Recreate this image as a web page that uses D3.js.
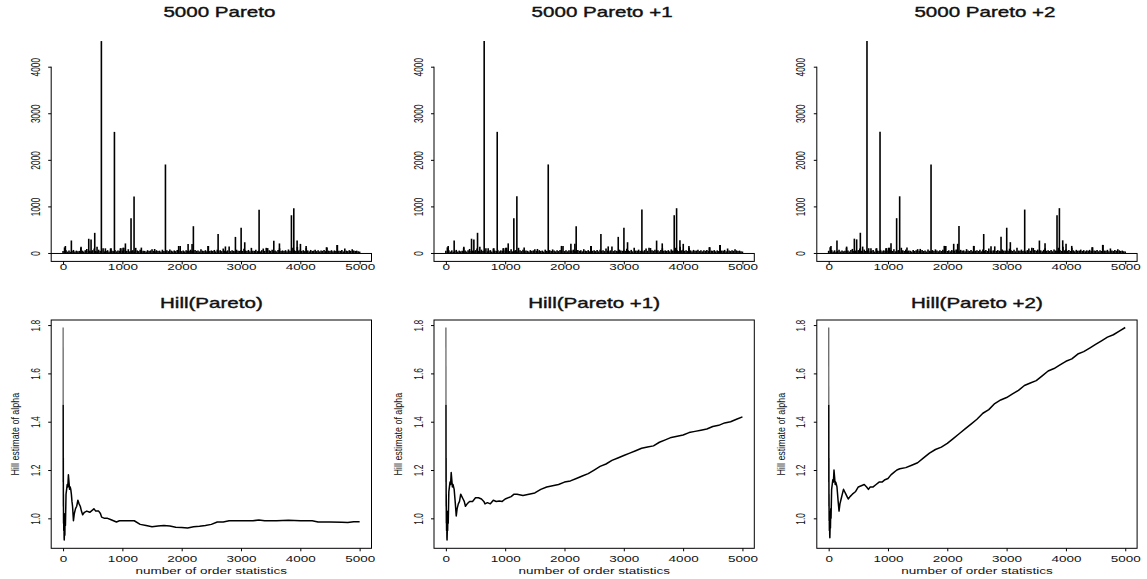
<!DOCTYPE html>
<html>
<head>
<meta charset="utf-8">
<script src="https://cdn.jsdelivr.net/npm/d3@7"></script>
<style>
  body { margin: 0; background: #fff; }
  text { font-family: "Liberation Sans", Arial, Helvetica, sans-serif; fill: #111; }
</style>
</head>
<body>
<svg id="chart" width="1147" height="579"></svg>
<script>
// ---- titles and tick labels ----
const topTitles = ["5000 Pareto", "5000 Pareto +1", "5000 Pareto +2"];
const hillTitles = ["Hill(Pareto)", "Hill(Pareto +1)", "Hill(Pareto +2)"];
const shifts = [0, 1, 2];
const xTicks = [0, 1000, 2000, 3000, 4000, 5000];
const sampleYTicks = [0, 1000, 2000, 3000, 4000];
const hillYTicks = [1.0, 1.2, 1.4, 1.6, 1.8];
const xLabel = "number of order statistics";
const yLabel = "Hill estimate of alpha";

// ---- the 5000-point Pareto sample (small background values every 25 indices) ----
const minorStep = 25;
const minorValues = [
  45,120,60,30,55,25,40,65,30,50,35,45,110,50,30,60,85,40,50,35,
  60,95,45,30,70,40,55,100,35,45,60,30,95,50,40,65,35,55,45,100,
  50,110,60,40,80,35,45,60,30,110,55,40,70,35,50,45,30,60,40,55,
  80,45,35,60,40,50,30,70,45,35,60,40,75,50,35,55,40,65,45,150,
  40,55,35,60,45,50,70,40,35,65,45,55,35,80,50,40,60,35,150,45,
  55,40,65,35,70,45,60,40,95,50,35,55,140,40,60,45,35,70,50,45,
  60,45,90,55,40,65,35,110,50,45,70,40,55,35,60,95,45,110,105,60,
  45,70,40,55,35,65,100,45,55,40,60,35,75,50,45,110,60,40,130,55,
  70,45,60,40,110,55,35,65,45,50,70,40,60,35,55,45,65,40,120,50,
  45,60,35,55,40,170,50,45,65,35,95,50,40,60,45,80,55,40,50,35,
  30
];
// large observations: [index, value]
const majorSpikes = [
  [39,150],[140,268],[303,135],[433,305],[472,290],[534,432],[573,135],
  [646,4550],[713,100],[809,100],[866,2600],[966,100],[1011,110],[1051,205],
  [1146,745],[1197,1215],[1320,115],[1544,85],[1726,1900],[1949,150],
  [2108,195],[2175,195],[2197,575],[2444,150],[2614,405],[2737,140],
  [2906,345],[3002,540],[3063,230],[3305,930],[3553,265],[3648,205],
  [3850,810],[3890,960],[3946,270],[4002,195],[4098,150],[4441,122],[4620,172]
];

// ---- Hill estimates: [number of order statistics, estimate] ----
const hillPareto = [
  [1,1.79],[2,1.47],[3,1.15],[4,1.25],[5,1.05],[6,1.10],[8,0.98],[10,1.02],[12,0.95],
  [15,1.00],[18,0.92],[20,0.91],[25,0.96],[30,0.93],[35,1.02],[40,0.97],[50,1.10],
  [60,1.12],[70,1.14],[80,1.13],[90,1.18],[100,1.15],[110,1.12],[120,1.13],[130,1.12],
  [140,1.10],[150,1.07],[160,1.05],[175,0.99],[190,1.02],[210,1.04],[230,1.05],
  [250,1.075],[270,1.06],[290,1.05],[310,1.03],[330,1.015],[360,1.025],[400,1.03],
  [450,1.025],[500,1.035],[520,1.04],[550,1.03],[600,1.03],[630,1.02],[650,1.005],
  [700,1.0],[750,1.0],[800,0.995],[850,0.99],[900,0.985],[950,0.99],[1000,0.99],
  [1100,0.99],[1150,0.99],[1200,0.99],[1300,0.975],[1400,0.97],[1500,0.965],
  [1600,0.968],[1700,0.97],[1800,0.968],[1900,0.963],[2000,0.962],[2100,0.96],
  [2200,0.965],[2300,0.967],[2400,0.97],[2500,0.975],[2600,0.985],[2700,0.985],
  [2800,0.99],[2900,0.99],[3000,0.99],[3200,0.99],[3300,0.993],[3400,0.99],
  [3600,0.99],[3800,0.992],[4000,0.99],[4200,0.99],[4300,0.985],[4500,0.985],
  [4700,0.984],[4800,0.983],[4900,0.986],[5000,0.986]
];
const hillPareto1 = [
  [1,1.79],[2,1.47],[3,1.15],[4,1.25],[5,1.05],[6,1.10],[8,0.98],[10,1.03],[12,0.95],
  [15,1.0],[18,0.92],[20,0.91],[25,0.96],[30,0.95],[35,1.03],[40,0.98],[50,1.11],
  [60,1.13],[70,1.15],[80,1.14],[90,1.19],[100,1.16],[110,1.13],[120,1.14],[130,1.13],
  [140,1.12],[150,1.09],[160,1.06],[175,1.01],[190,1.04],[210,1.06],[230,1.07],
  [250,1.10],[270,1.09],[290,1.08],[310,1.07],[330,1.05],[360,1.06],[400,1.07],
  [450,1.07],[500,1.085],[550,1.085],[600,1.08],[640,1.07],[660,1.06],[700,1.065],
  [750,1.06],[800,1.075],[850,1.07],[900,1.072],[950,1.07],[1000,1.08],[1100,1.09],
  [1150,1.10],[1200,1.10],[1300,1.095],[1400,1.10],[1500,1.105],[1600,1.12],
  [1700,1.13],[1800,1.135],[1900,1.14],[2000,1.15],[2100,1.155],[2200,1.165],
  [2300,1.175],[2400,1.185],[2500,1.20],[2600,1.215],[2700,1.225],[2800,1.24],
  [2900,1.25],[3000,1.26],[3100,1.27],[3200,1.28],[3300,1.29],[3400,1.295],
  [3500,1.30],[3600,1.315],[3700,1.325],[3800,1.335],[3900,1.34],[4000,1.345],
  [4100,1.355],[4200,1.36],[4300,1.365],[4400,1.37],[4500,1.38],[4600,1.385],
  [4700,1.395],[4800,1.40],[4900,1.41],[5000,1.42]
];
const hillPareto2 = [
  [1,1.79],[2,1.47],[3,1.15],[4,1.25],[5,1.05],[6,1.10],[8,0.99],[10,1.03],[12,0.95],
  [15,1.01],[18,0.93],[20,0.92],[25,0.97],[30,0.96],[35,1.04],[40,1.0],[50,1.12],
  [60,1.14],[70,1.16],[80,1.15],[90,1.20],[100,1.17],[110,1.14],[120,1.15],[130,1.14],
  [140,1.13],[150,1.10],[160,1.07],[175,1.03],[190,1.06],[210,1.08],[230,1.10],
  [250,1.12],[270,1.11],[290,1.10],[310,1.09],[330,1.08],[360,1.09],[400,1.10],
  [450,1.11],[500,1.13],[550,1.135],[600,1.14],[640,1.13],[670,1.12],[700,1.13],
  [750,1.13],[800,1.14],[850,1.15],[900,1.15],[950,1.16],[1000,1.165],[1050,1.18],
  [1100,1.19],[1150,1.20],[1200,1.205],[1300,1.21],[1400,1.22],[1500,1.23],
  [1600,1.25],[1700,1.27],[1800,1.285],[1900,1.295],[2000,1.31],[2100,1.33],
  [2200,1.35],[2300,1.37],[2400,1.39],[2500,1.41],[2600,1.435],[2700,1.45],
  [2800,1.475],[2900,1.49],[3000,1.50],[3100,1.515],[3200,1.53],[3300,1.55],
  [3400,1.56],[3500,1.57],[3600,1.59],[3700,1.61],[3800,1.62],[3900,1.635],
  [4000,1.65],[4100,1.66],[4200,1.68],[4300,1.69],[4400,1.705],[4500,1.72],
  [4600,1.735],[4700,1.75],[4800,1.76],[4900,1.775],[5000,1.79]
];
const hillSeries = [hillPareto, hillPareto1, hillPareto2];

// ---- layout ----
const panelLeft = [51.2, 434.0, 816.8];
const panelWidth = 320.3;
const sampleTop = 32.6, sampleBottom = 261.4;
const hillTop = 320, hillBottom = 548.3;
const TICK = 3;
const textStretch = 1.5;   // glyphs are rendered wide
const titleStretch = 1.37;

const svg = d3.select("#chart");

const sample = minorValues.map((v, i) => [i * minorStep, v]).concat(majorSpikes);

function styleAxis(g) {
  g.selectAll("path.domain").remove();
  g.selectAll(".tick line").attr("stroke", "#000").attr("stroke-width", 1);
}

function title(sel, cx, baseline, label) {
  sel.append("text")
    .attr("transform", `translate(${cx},${baseline}) scale(${titleStretch},1)`)
    .attr("text-anchor", "middle")
    .attr("font-size", 15)
    .attr("stroke", "#111").attr("stroke-width", 0.4)
    .text(label);
}

shifts.forEach((shift, p) => {
  const left = panelLeft[p];
  const x = d3.scaleLinear().domain([-200, 5200]).range([left, left + panelWidth]);
  const midX = left + panelWidth / 2;

  // ===== top row: sample plotted as vertical lines =====
  const ys = d3.scaleLinear().domain([-181, 4732]).range([sampleBottom, sampleTop]);
  const top = svg.append("g");

  title(top, midX + 8, 17, topTitles[p]);

  top.append("g").selectAll("line").data(sample).join("line")
    .attr("x1", d => x(d[0])).attr("x2", d => x(d[0]))
    .attr("y1", ys(0)).attr("y2", d => ys(d[1] + shift))
    .attr("stroke", "#000").attr("stroke-width", 1.6);

  const frameTop = ys(0) + 0.5;
  top.append("rect")
    .attr("x", left).attr("y", frameTop)
    .attr("width", panelWidth).attr("height", sampleBottom - frameTop)
    .attr("fill", "none").attr("stroke", "#000").attr("stroke-width", 1);

  // y axis (line only spans the tick range)
  top.append("line")
    .attr("x1", left).attr("x2", left)
    .attr("y1", ys(0)).attr("y2", ys(4000))
    .attr("stroke", "#000").attr("stroke-width", 1);
  const yAx = top.append("g").attr("transform", `translate(${left},0)`)
    .call(d3.axisLeft(ys).tickValues(sampleYTicks).tickSize(TICK).tickFormat(d3.format("d")))
    .call(styleAxis);
  yAx.selectAll("text")
    .attr("x", null).attr("dy", null).attr("text-anchor", "middle")
    .attr("font-size", 8.4).attr("font-family", null)
    .attr("transform", `translate(-11.5,0) scale(${textStretch},1) rotate(-90)`);

  const xAx = top.append("g").attr("transform", `translate(0,${sampleBottom})`)
    .call(d3.axisBottom(x).tickValues(xTicks).tickSize(TICK).tickFormat(d3.format("d")))
    .call(styleAxis);
  xAx.selectAll("text")
    .attr("y", null).attr("dy", null).attr("font-size", 9).attr("font-family", null)
    .attr("transform", `translate(0,9) scale(${textStretch},1)`);

  // ===== bottom row: Hill plot =====
  const yh = d3.scaleLinear().domain([0.876, 1.821]).range([hillBottom, hillTop]);
  const bot = svg.append("g");

  title(bot, midX, 308, hillTitles[p]);

  const line = d3.line().x(d => x(d[0])).y(d => yh(d[1]));
  const series = hillSeries[p];
  // first step (largest order statistic) is drawn in grey, as a thin stroke
  bot.append("path")
    .datum(series.slice(0, 2))
    .attr("d", line)
    .attr("fill", "none").attr("stroke", "#666").attr("stroke-width", 1.3);
  bot.append("path")
    .datum(series.slice(1))
    .attr("d", line)
    .attr("fill", "none").attr("stroke", "#000").attr("stroke-width", 1.5)
    .attr("stroke-linejoin", "round");

  bot.append("rect")
    .attr("x", left).attr("y", hillTop)
    .attr("width", panelWidth).attr("height", hillBottom - hillTop)
    .attr("fill", "none").attr("stroke", "#000").attr("stroke-width", 1);

  const hy = bot.append("g").attr("transform", `translate(${left},0)`)
    .call(d3.axisLeft(yh).tickValues(hillYTicks).tickSize(TICK).tickFormat(d3.format(".1f")))
    .call(styleAxis);
  hy.selectAll("text")
    .attr("x", null).attr("dy", null).attr("text-anchor", "middle")
    .attr("font-size", 8.4).attr("font-family", null)
    .attr("transform", `translate(-11.5,0) scale(${textStretch},1) rotate(-90)`);

  const hx = bot.append("g").attr("transform", `translate(0,${hillBottom})`)
    .call(d3.axisBottom(x).tickValues(xTicks).tickSize(TICK).tickFormat(d3.format("d")))
    .call(styleAxis);
  hx.selectAll("text")
    .attr("y", null).attr("dy", null).attr("font-size", 9).attr("font-family", null)
    .attr("transform", `translate(0,14) scale(${textStretch},1)`);

  bot.append("text")
    .attr("transform", `translate(${x(2500)},574) scale(${textStretch},1)`)
    .attr("text-anchor", "middle").attr("font-size", 9)
    .text(xLabel);

  bot.append("text")
    .attr("transform", `translate(${left - 32},${(hillTop + hillBottom) / 2}) scale(1.15,1) rotate(-90)`)
    .attr("text-anchor", "middle").attr("font-size", 8.9)
    .text(yLabel);
});
</script>
</body>
</html>
